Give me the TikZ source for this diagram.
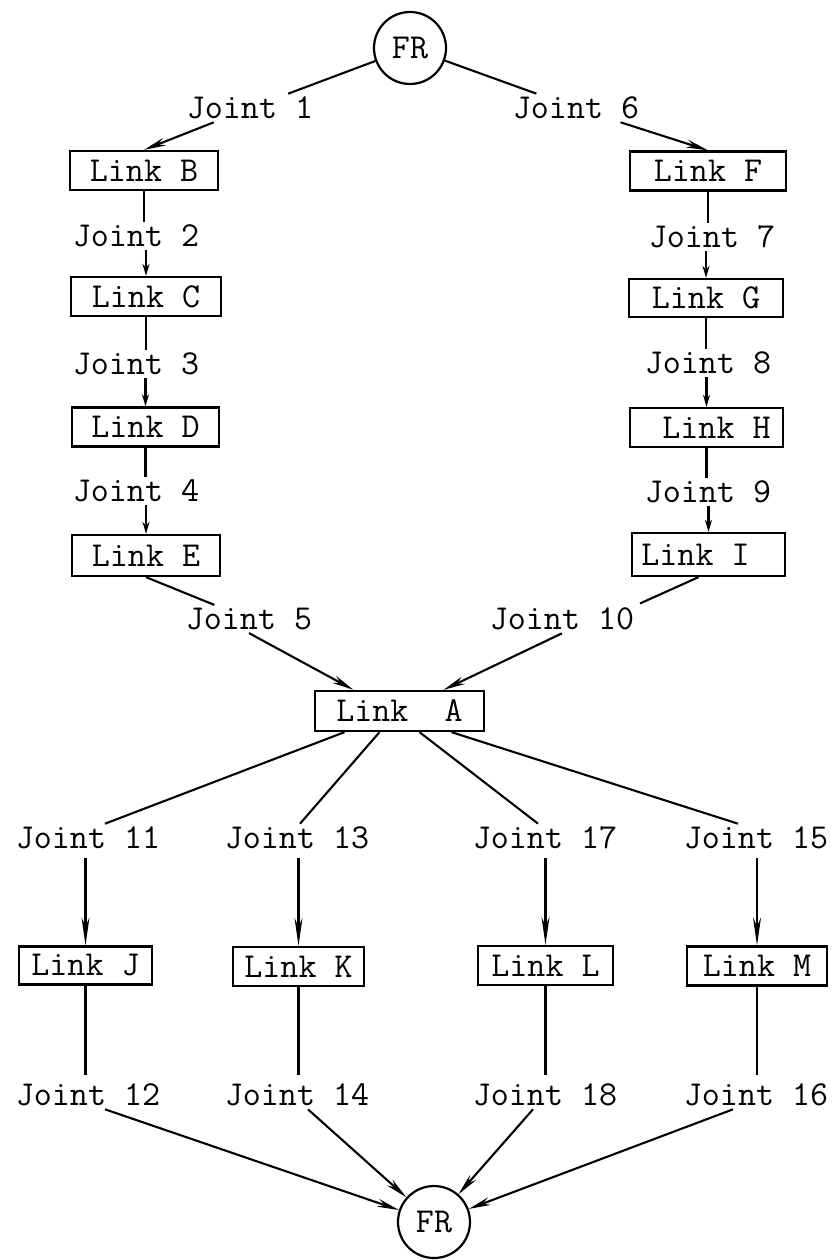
\documentclass[tikz,border=0pt]{standalone}
\usepackage{fontspec}
\usetikzlibrary{arrows.meta}
\begin{document}
\begin{tikzpicture}[x=1pt,y=-1pt,
  every node/.style={font=\ttfamily\fontsize{35}{40}\selectfont},
  joint/.style={inner sep=3pt},
  linkbox/.style={draw, line width=2.3pt, inner sep=0pt, minimum height=39pt},
  frnode/.style={draw, circle, line width=2.2pt, minimum size=72pt, inner sep=0pt},
  conn/.style={line width=2.1pt},
  arr/.style={conn, -{Stealth[length=22pt,width=8pt]}},
  larr/.style={conn, -{Stealth[length=28pt,width=8pt]}},
  sarr/.style={conn, -{Stealth[length=12pt,width=7pt]}}]
\useasboundingbox (0,0) rectangle (840,1260);

% top
\node[frnode] (FR1) at (410,48) {FR};
\node[joint] (J1) at (250,108) {Joint 1};
\node[joint] (J6) at (576,108) {Joint 6};

% left column
\node[linkbox, minimum width=148pt] (LB) at (144,170.5) {Link B};
\node[joint] (J2) at (136,236) {Joint 2};
\node[linkbox, minimum width=150pt] (LC) at (146,296.5) {Link C};
\node[joint] (J3) at (136,364) {Joint 3};
\node[linkbox, minimum width=147pt] (LD) at (145.5,427) {Link D};
\node[joint] (J4) at (136,491) {Joint 4};
\node[linkbox, minimum width=148pt, minimum height=41pt] (LE) at (146,555.5) {Link E};
\node[joint] (J5) at (249,619) {Joint 5};

% right column
\node[linkbox, minimum width=156pt] (LF) at (708,171) {Link F};
\node[joint] (J7) at (712,237) {Joint 7};
\node[linkbox, minimum width=154pt, minimum height=38pt] (LG) at (706,298) {Link G};
\node[joint] (J8) at (708,363) {Joint 8};
\node[linkbox, minimum width=153pt] (LH) at (706.5,427.5) {\hspace*{20pt}Link H};
\node[joint] (J9) at (708,492) {Joint 9};
\node[linkbox, minimum width=153pt, minimum height=43pt] (LI) at (708.5,554.5) {Link I\hspace*{26pt}};
\node[joint] (J10) at (562,619) {Joint 10};

% centre
\node[linkbox, minimum width=169pt, minimum height=40pt] (LA) at (399.5,711) {Link\ \ A};

% lower row
\node[joint] (J11) at (88,838) {Joint 11};
\node[joint] (J13) at (297,838) {Joint 13};
\node[joint] (J17) at (545,838) {Joint 17};
\node[joint] (J15) at (756,838) {Joint 15};
\node[linkbox, minimum width=133pt, minimum height=38pt] (LJ) at (85.5,965.5) {Link J};
\node[linkbox, minimum width=131pt] (LK) at (298.5,966.5) {Link K};
\node[linkbox, minimum width=135pt] (LL) at (545.5,965.5) {Link L};
\node[linkbox, minimum width=140pt] (LM) at (757,966) {Link M};
\node[joint] (J12) at (88,1095) {Joint 12};
\node[joint] (J14) at (297,1095) {Joint 14};
\node[joint] (J18) at (545,1095) {Joint 18};
\node[joint] (J16) at (756,1095) {Joint 16};
\node[frnode] (FR2) at (434,1222) {FR};

% connectors top
\draw[conn] (FR1) -- (J1);
\draw[conn] (FR1) -- (J6);
\draw[arr] (J1) -- (LB.north);
\draw[arr] (J6) -- (LF.north);

% left chain
\draw[conn] (LB.south) -- (LB.south |- J2.north);
\draw[sarr] (LC.north |- J2.south) -- (LC.north);
\draw[conn] (LC.south) -- (LC.south |- J3.north);
\draw[sarr] (LD.north |- J3.south) -- (LD.north);
\draw[conn] (LD.south) -- (LD.south |- J4.north);
\draw[sarr] (LE.north |- J4.south) -- (LE.north);
\draw[conn] (LE.south) -- (J5);

% right chain
\draw[conn] (LF.south) -- (LF.south |- J7.north);
\draw[sarr] (LG.north |- J7.south) -- (LG.north);
\draw[conn] (LG.south) -- (LG.south |- J8.north);
\draw[sarr] (LH.north |- J8.south) -- (LH.north);
\draw[conn] (LH.south) -- (LH.south |- J9.north);
\draw[sarr] (LI.north |- J9.south) -- (LI.north);
\draw[conn, shorten >=3pt] ([xshift=-10pt]LI.south) -- (J10.north east);

% into Link A
\draw[arr] (J5.south) -- ([xshift=-46pt]LA.north);
\draw[arr] (J10.south) -- ([xshift=44pt]LA.north);

% out of Link A
\draw[conn] ([xshift=-55pt]LA.south) -- ([xshift=17pt]J11.north);
\draw[conn] ([xshift=-20pt]LA.south) -- ([xshift=3pt]J13.north);
\draw[conn] ([xshift=20pt]LA.south) -- ([xshift=-7pt]J17.north);
\draw[conn] ([xshift=52pt]LA.south) -- ([xshift=-18pt]J15.north);

% lower verticals
\draw[larr, shorten <=6pt] (LJ.north |- J11.south) -- (LJ.north);
\draw[larr, shorten <=6pt] (LK.north |- J13.south) -- (LK.north);
\draw[larr, shorten <=6pt] (LL.north |- J17.south) -- (LL.north);
\draw[larr, shorten <=6pt] (LM.north |- J15.south) -- (LM.north);
\draw[conn, shorten >=6pt] (LJ.south) -- (LJ.south |- J12.north);
\draw[conn, shorten >=6pt] (LK.south) -- (LK.south |- J14.north);
\draw[conn, shorten >=6pt] (LL.south) -- (LL.south |- J18.north);
\draw[conn, shorten >=6pt] (LM.south) -- (LM.south |- J16.north);

% into bottom FR
\draw[arr] ([xshift=17pt]J12.south) -- (FR2);
\draw[arr] ([xshift=11pt]J14.south) -- (FR2);
\draw[arr] ([xshift=-12pt]J18.south) -- (FR2);
\draw[arr] ([xshift=-23pt]J16.south) -- (FR2);
\end{tikzpicture}
\end{document}
